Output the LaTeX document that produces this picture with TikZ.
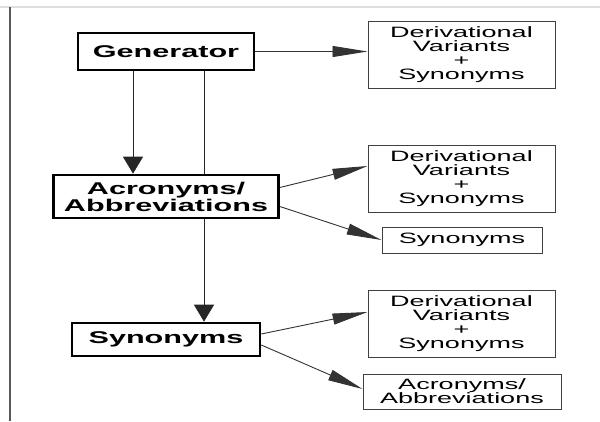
\documentclass[tikz,border=0pt]{standalone}
\usepackage{fontspec}
\newfontfamily\diafont[FakeStretch=1.8]{Liberation Sans}
\usetikzlibrary{arrows.meta,positioning,backgrounds}
\tikzset{
  dob/.style={draw=black,line width=2.6pt,fill=white,inner sep=0pt,align=center,
    font=\diafont\fontsize{17}{14}\selectfont\bfseries},
  celdob/.style={draw=black!75,line width=1pt,fill=white,inner sep=0pt,align=center,
    font=\diafont\fontsize{15}{14}\selectfont},
  lenyil/.style={draw=black!85,line width=1pt,-{Triangle[length=17pt,width=20pt]}},
  nyil/.style={draw=black!80,line width=0.9pt,-{Triangle[length=35pt,width=11pt]}},
}
\begin{document}
\begin{tikzpicture}[x=1pt,y=-1pt]
  \useasboundingbox (0,0) rectangle (600,421);
  \draw[black!13,line width=1.5pt] (0,7) -- (600,7);
  \draw[black!65,line width=1.5pt] (10,7) -- (10,421);
  % bal oszlop
  \node[dob,minimum width=176pt,minimum height=37pt] (gen) at (166,51.5) {Generator};
  \node[dob,minimum width=225pt,minimum height=43pt] (acr) at (166,196.5) {Acronyms/\\Abbreviations};
  \node[dob,minimum width=188pt,minimum height=33pt] (syn) at (166,339.5) {Synonyms};
  % jobb oszlop
  \node[celdob,minimum width=187pt,minimum height=67pt] (dvs1) at (461.5,54.5) {Derivational\\Variants\\+\\Synonyms};
  \node[celdob,minimum width=187pt,minimum height=67pt] (dvs2) at (461.5,178.5) {Derivational\\Variants\\+\\Synonyms};
  \node[celdob,minimum width=160pt,minimum height=26pt] (syn2) at (462,240) {Synonyms};
  \node[celdob,minimum width=187pt,minimum height=67pt] (dvs3) at (461.5,323.5) {Derivational\\Variants\\+\\Synonyms};
  \node[celdob,minimum width=198pt,minimum height=35pt] (acr2) at (462,391.5) {Acronyms/\\Abbreviations};
  \begin{scope}[on background layer]
    \draw[lenyil] ([xshift=-33pt]gen.south) -- ([xshift=-33pt]acr.north);
    \draw[lenyil] ([xshift=38pt]gen.south) -- ([xshift=38pt]syn.north);
    \draw[nyil] (gen.east) -- (gen.east -| dvs1.west);
    \draw[nyil] ([yshift=9pt]acr.east) -- ([yshift=12.5pt]dvs2.west);
    \draw[nyil] ([yshift=-10pt]acr.east) -- (syn2.west);
    \draw[nyil] ([yshift=5.5pt]syn.east) -- ([yshift=11.5pt]dvs3.west);
    \draw[nyil] ([yshift=-5.5pt]syn.east) -- ([yshift=2.5pt]acr2.west);
  \end{scope}
\end{tikzpicture}
\end{document}
